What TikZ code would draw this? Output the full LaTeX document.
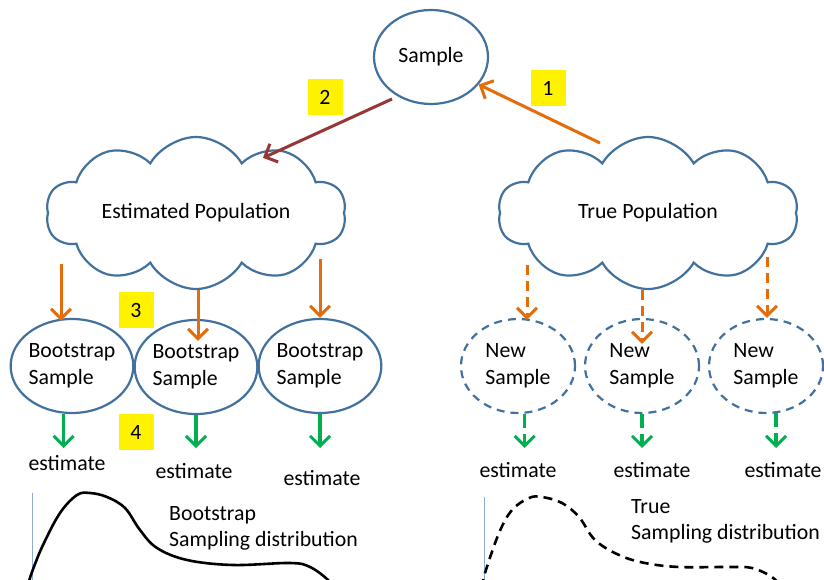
\documentclass[tikz,border=0pt]{standalone}
\usepackage{fontspec}
\setmainfont{Carlito}
\usetikzlibrary{shapes.geometric,shapes.symbols,arrows.meta,calc}
\definecolor{ringblue}{RGB}{65,113,156}
\definecolor{arrorange}{RGB}{228,108,10}
\definecolor{arrred}{RGB}{149,55,53}
\definecolor{arrgreen}{RGB}{0,176,80}
\definecolor{axisblue}{RGB}{140,170,220}
\begin{document}
\begin{tikzpicture}[x=1pt,y=-1pt,font=\fontsize{21.8}{26.5}\selectfont,
    samp/.style={ellipse,draw=ringblue,line width=2.2pt,minimum width=114pt,minimum height=94pt,inner sep=0pt,align=left},
    newsamp/.style={samp,dash pattern=on 8pt off 6pt},
    pop/.style={cloud,cloud puffs=10,cloud puff arc=120,cloud ignores aspect,draw=ringblue,line width=2.2pt,minimum width=300pt,minimum height=152pt,inner sep=0pt},
    num/.style={fill=yellow,minimum width=35pt,minimum height=36pt,inner sep=0pt},
    barb/.style={-{Straight Barb[length=10pt,width=20pt,line width=3pt]}},
    orangearr/.style={barb,draw=arrorange,line width=3pt},
    greenarr/.style={barb,draw=arrgreen,line width=3.5pt},
    curvepen/.style={line width=2.6pt,smooth,tension=0.6}]
\useasboundingbox (0,0) rectangle (824,580);

% top sample and the two populations
\node[samp] (orig) at (431,57) {Sample};
\node[pop] (estpop) at (196,213) {Estimated Population};
\node[pop] (truepop) at (648,213) {True Population};
\coordinate (t1) at (600,143);
\coordinate (t2) at (392,99);
\draw[orangearr] (t1) -- (orig.-30);
\draw[barb,draw=arrred,line width=3pt] (t2) -- ($(estpop.north)+(67,22)$);
\node[num] (n1) at (548,88) {1};
\node[num] (n2) at (325,97) {2};

% bootstrap side
\node[samp] (bs1) at (72,366) {Bootstrap\\Sample};
\node[samp] (bs2) at (196,367) {Bootstrap\\Sample};
\node[samp] (bs3) at (320,366) {Bootstrap\\Sample};
\coordinate (o1) at (61,264);
\coordinate (o2) at (198,290);
\coordinate (o3) at (320,259);
\draw[orangearr] (o1) -- ($(o1 |- bs1.north)+(0,3)$);
\draw[orangearr] (o2) -- ($(o2 |- bs2.north)+(0,22)$);
\draw[orangearr] (o3) -- (o3 |- bs3.north);
\node[num] (n3) at (136,310) {3};
\node[num] (n4) at (136,432) {4};
\coordinate (g) at (0,448);
\draw[greenarr] (bs1.-100) -- (bs1.-100 |- g);
\draw[greenarr] (bs2.south) -- (bs2.south |- g);
\draw[greenarr] (bs3.south) -- (bs3.south |- g);
\node (est1) at (67,463) {estimate};
\node (est2) at (194,471) {estimate};
\node (est3) at (322,478) {estimate};

% true side
\node[newsamp] (ns1) at (518,366) {New\\Sample};
\node[newsamp] (ns2) at (642,366) {New\\Sample};
\node[newsamp] (ns3) at (766,366) {New\\Sample};
\coordinate (d1) at (527,265);
\coordinate (d2) at (642,290);
\coordinate (d3) at (767,257);
\draw[orangearr,dash pattern=on 10pt off 6pt] (d1) -- ($(d1 |- ns1.north)+(0,2)$);
\draw[orangearr,dash pattern=on 10pt off 6pt] (d2) -- ($(d2 |- ns2.north)+(0,26)$);
\draw[orangearr,dash pattern=on 10pt off 6pt] (d3) -- (d3 |- ns3.north);
\draw[greenarr,dash pattern=on 14pt off 6pt] (ns1.-82) -- (ns1.-82 |- g);
\draw[greenarr,dash pattern=on 14pt off 6pt] (ns2.south) -- (ns2.south |- g);
\draw[greenarr,dash pattern=on 14pt off 6pt] (ns3.-78) -- (ns3.-78 |- g);
\node (est4) at (518,470) {estimate};
\node (est5) at (652,470) {estimate};
\node (est6) at (783,470) {estimate};

% sampling distributions
\begin{scope}
\clip (0,0) rectangle (824,580);
\draw[axisblue,line width=1pt] (32,493) -- (32,585);
\draw[axisblue,line width=1pt] (484,497) -- (484,585);
\draw[curvepen] plot coordinates {(28,585) (32,572) (43,545) (60,513) (77,495) (90,493) (107,497)
  (125,508) (140,530) (157,548) (187,560) (233,565) (290,563) (310,567) (328,580) (334,590)};
\draw[curvepen,dash pattern=on 9pt off 6pt] plot coordinates {(482,588) (485,573) (499,533) (512,510)
  (529,498) (542,497) (562,503) (579,517) (595,540) (619,555) (645,563) (679,567) (729,567)
  (752,568) (772,577) (780,586)};
\end{scope}
\node[align=left,anchor=north west,inner sep=0pt] (bdist) at (169,506) {Bootstrap\\Sampling distribution};
\node[align=left,anchor=north west,inner sep=0pt] (tdist) at (631,499) {True\\Sampling distribution};
\end{tikzpicture}
\end{document}
